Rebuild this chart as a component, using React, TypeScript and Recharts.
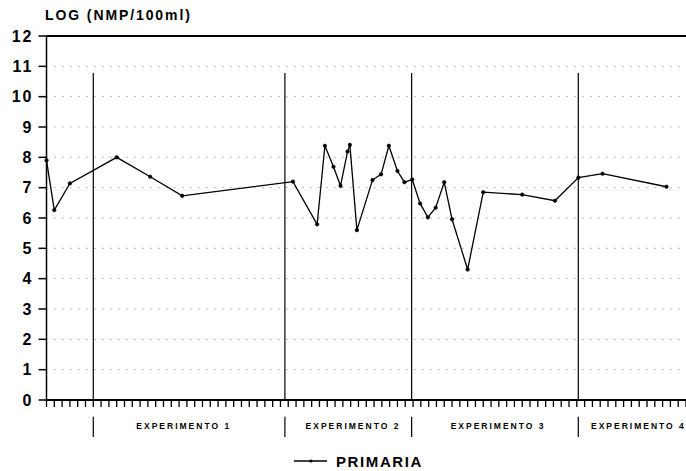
import { LineChart, Line, XAxis, YAxis, CartesianGrid, ReferenceLine } from 'recharts';

// sampling position along the campaign (tick units) and log count
const sampleDay = [0, 1, 3, 9, 13.3, 17.4, 31.6, 34.7, 35.7, 36.8, 37.7, 38.6, 38.9, 39.8, 41.8, 42.9, 43.9, 45, 45.9, 46.9, 47.9, 48.9, 49.9, 51, 52, 54, 56, 61, 65.2, 68.2, 71.3, 79.5];
const primaria = [7.9, 6.26, 7.14, 8.0, 7.36, 6.73, 7.2, 5.79, 8.38, 7.69, 7.06, 8.19, 8.41, 5.6, 7.25, 7.44, 8.38, 7.55, 7.18, 7.27, 6.48, 6.02, 6.34, 7.18, 5.96, 4.3, 6.85, 6.77, 6.57, 7.33, 7.46, 7.03];

const experimentBounds = [6, 30.57, 46.82, 68.19];
const experimentLabels = ['EXPERIMENTO 1', 'EXPERIMENTO 2', 'EXPERIMENTO 3', 'EXPERIMENTO 4'];
const experimentCenters = [17.6, 39.3, 57.9, 75.9];

const yTicks = [0, 1, 2, 3, 4, 5, 6, 7, 8, 9, 10, 11, 12];
const xTicks = Array.from({ length: 83 }, (_, i) => i);

const data = sampleDay.map((d, i) => ({ day: d, primaria: primaria[i] }));

const font = '"Liberation Sans", Arial, sans-serif';

// plot geometry, used only to place the html texts
const plotLeft = 46.5;
const unit = (686 - plotLeft) / 82;

export default function App() {
  return (
    <div style={{ position: 'absolute', left: 0, top: 0, width: 686, height: 471, background: '#fff', fontFamily: font }}>
      <LineChart width={686} height={471} data={data} margin={{ top: 36, right: 0, left: 0, bottom: 0 }}>
        <CartesianGrid vertical={false} stroke="#777" strokeDasharray="1 7" />
        <XAxis
          dataKey="day"
          type="number"
          domain={[0, 82]}
          ticks={xTicks}
          interval={0}
          tick={() => <g />}
          tickSize={7}
          height={71}
          stroke="#000"
          strokeWidth={2}
          tickLine={{ stroke: '#000', strokeWidth: 1.3 }}
        />
        <YAxis
          type="number"
          domain={[0, 12]}
          ticks={yTicks}
          interval={0}
          width={plotLeft}
          tickSize={8}
          tickMargin={5}
          stroke="#000"
          strokeWidth={1.5}
          tick={{ fill: '#000', fontSize: 16, fontWeight: 700, fontFamily: font, letterSpacing: 2 }}
        />
        <ReferenceLine y={12} stroke="#000" strokeWidth={2} />
        {experimentBounds.map((b) => (
          <ReferenceLine key={'in' + b} segment={[{ x: b, y: 0 }, { x: b, y: 10.78 }]} stroke="#000" strokeWidth={1.2} />
        ))}
        {experimentBounds.map((b) => (
          <ReferenceLine
            key={'out' + b}
            segment={[{ x: b, y: -0.55 }, { x: b, y: -1.22 }]}
            stroke="#000"
            strokeWidth={1.2}
            ifOverflow="visible"
          />
        ))}
        <Line
          type="linear"
          dataKey="primaria"
          stroke="#000"
          strokeWidth={1.3}
          dot={{ r: 1.8, fill: '#000', stroke: '#000', strokeWidth: 0.5 }}
          isAnimationActive={false}
        />
      </LineChart>

      <div style={{ position: 'absolute', left: 45, top: 7, fontSize: 14, fontWeight: 700, letterSpacing: 1.9, whiteSpace: 'nowrap' }}>
        LOG (NMP/100ml)
      </div>

      {experimentLabels.map((label, i) => (
        <div
          key={label}
          style={{
            position: 'absolute',
            left: plotLeft + experimentCenters[i] * unit - 60,
            width: 120,
            top: 421,
            textAlign: 'center',
            fontSize: 8.5,
            fontWeight: 700,
            letterSpacing: 2,
            whiteSpace: 'nowrap',
          }}
        >
          {label}
        </div>
      ))}

      <div style={{ position: 'absolute', left: 294, top: 452, display: 'flex', alignItems: 'center' }}>
        <svg width={34} height={18}>
          <line x1={0} y1={9} x2={33} y2={9} stroke="#000" strokeWidth={1.3} />
          <circle cx={17} cy={9} r={1.6} fill="#000" />
        </svg>
        <span style={{ marginLeft: 8, fontSize: 15, fontWeight: 700, letterSpacing: 1.6 }}>PRIMARIA</span>
      </div>
    </div>
  );
}
